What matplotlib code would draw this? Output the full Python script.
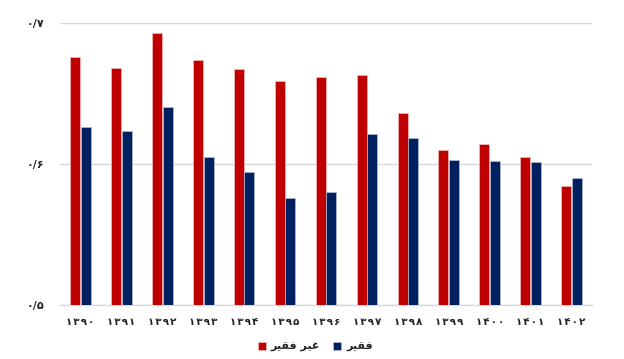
import matplotlib
matplotlib.use("Agg")
import matplotlib.pyplot as plt
import numpy as np

plt.rcParams['font.family'] = ['DejaVu Sans']

years = [1390, 1391, 1392, 1393, 1394, 1395, 1396, 1397, 1398, 1399, 1400, 1401, 1402]
non_poor = [0.676, 0.668, 0.693, 0.6735, 0.667, 0.659, 0.6615, 0.663, 0.636, 0.610, 0.614, 0.605, 0.584]
poor = [0.626, 0.623, 0.640, 0.6045, 0.594, 0.576, 0.580, 0.621, 0.618, 0.603, 0.602, 0.601, 0.590]
yticks = [0.5, 0.6, 0.7]

# matplotlib has no bidi/shaping, so persian words are written in visual order with presentation forms
label_non_poor = "\uFEAE\uFEF4\uFED8\uFED3 \uFEAE\uFEF4\uFECF"   # غیر فقیر
label_poor = "\uFEAE\uFEF4\uFED8\uFED3"                            # فقیر

fa_digits = str.maketrans("0123456789", "۰۱۲۳۴۵۶۷۸۹")
def fa(s, sep="\u200A"):
    return sep.join(str(s).translate(fa_digits))

red = "#C00000"
navy = "#002060"
text_col = "#262626"

fig = plt.figure(figsize=(6.24, 3.59), dpi=100)
ax = fig.add_axes([60/624, 1 - 304.5/359, 532/624, 281.5/359])

x = np.arange(len(years))
w = 0.245
ax.bar(x - 0.13, non_poor, w, color=red, edgecolor="#f4c0c0", linewidth=0.5, label=label_non_poor, zorder=3)
ax.bar(x + 0.13, poor, w, color=navy, edgecolor="#b4bfd4", linewidth=0.5, label=label_poor, zorder=3)

ax.set_xlim(-0.5, len(years) - 0.5)
ax.set_ylim(0.5, 0.7)
ax.set_yticks(yticks)
ax.set_yticklabels(["۰/" + fa(str(int(round(v * 10)))) for v in yticks],
                   fontsize=8, fontweight="bold", color=text_col)
ax.set_xticks(x)
ax.set_xticklabels([fa(y) for y in years], fontsize=7.5, fontweight="bold", color=text_col)
ax.tick_params(axis="both", length=0)
ax.tick_params(axis="x", pad=9)
ax.tick_params(axis="y", pad=11)

ax.grid(axis="y", color="#d9d9d9", linewidth=1.0, zorder=0)
for s in ["top", "right", "left"]:
    ax.spines[s].set_visible(False)
ax.spines["bottom"].set_color("#d9d9d9")
ax.spines["bottom"].set_linewidth(1.0)

fig.legend(loc="center", bbox_to_anchor=(0.505, 0.033), ncol=2, frameon=False,
           handlelength=0.75, handleheight=0.75, handletextpad=0.4, columnspacing=1.2,
           prop={"size": 8, "weight": "bold"}, labelcolor=text_col)

fig.savefig("out.png", dpi=100)
